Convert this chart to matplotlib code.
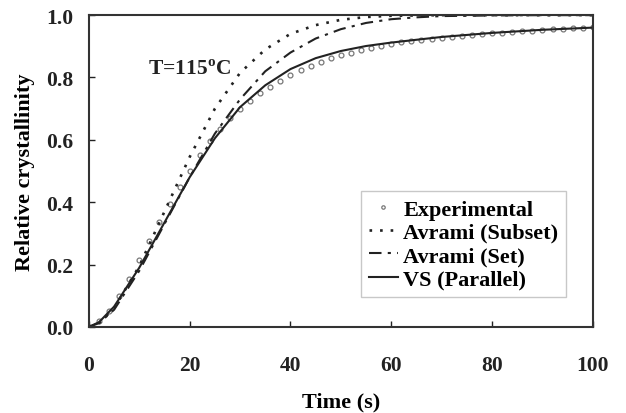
import matplotlib
matplotlib.use("Agg")
import matplotlib.pyplot as plt
import numpy as np

plt.rcParams['font.family'] = ['Liberation Serif', 'DejaVu Serif']
plt.rcParams['font.weight'] = 'bold'
plt.rcParams['mathtext.fontset'] = 'custom'
plt.rcParams['mathtext.rm'] = 'Liberation Serif:bold'

# Experimental points (every 2 s)
t_exp = np.arange(0, 101, 2)
x_exp = [0.0, 0.02, 0.05, 0.10, 0.155, 0.215, 0.275, 0.335, 0.395, 0.45,
         0.50, 0.55, 0.595, 0.635, 0.67, 0.70, 0.725, 0.75, 0.77, 0.79,
         0.808, 0.824, 0.838, 0.850, 0.861, 0.871, 0.880, 0.889, 0.896, 0.902,
         0.908, 0.913, 0.917, 0.921, 0.925, 0.928, 0.931, 0.934, 0.937, 0.940,
         0.942, 0.944, 0.946, 0.948, 0.950, 0.952, 0.954, 0.956, 0.958, 0.960,
         0.962]

# Model curves
t_sub = [0, 2, 5, 10, 15, 20, 25, 30, 35, 40, 45, 50, 55, 60, 70, 80, 100]
x_sub = [0.0, 0.012, 0.06, 0.195, 0.37, 0.545, 0.70, 0.815, 0.89, 0.94,
         0.968, 0.985, 0.994, 0.998, 1.0, 1.0, 1.0]

t_set = [0, 2, 5, 10, 15, 20, 25, 30, 35, 40, 45, 50, 55, 60, 65, 70, 80, 90, 100]
x_set = [0.0, 0.012, 0.055, 0.18, 0.33, 0.48, 0.62, 0.73, 0.82, 0.88,
         0.925, 0.955, 0.975, 0.987, 0.993, 0.997, 0.999, 1.0, 1.0]

t_vs = [0, 2, 5, 10, 15, 20, 25, 30, 35, 40, 45, 50, 55, 60, 70, 80, 90, 100]
x_vs = [0.0, 0.015, 0.065, 0.19, 0.335, 0.48, 0.605, 0.705, 0.775, 0.827,
        0.862, 0.885, 0.901, 0.912, 0.93, 0.943, 0.953, 0.96]

fig = plt.figure(figsize=(6.26, 4.14), dpi=100)
ax = fig.add_axes([0.142, 0.208, 0.805, 0.753])

ink = '#222222'
ax.plot(t_exp, x_exp, linestyle='none', marker='o', markersize=3.5,
        markerfacecolor='none', markeredgecolor='#777777', markeredgewidth=0.9,
        label='Experimental')
ax.plot(t_sub, x_sub, color=ink, lw=1.9, linestyle=(0, (1, 3)), label='Avrami (Subset)')
ax.plot(t_set, x_set, color=ink, lw=1.5, linestyle=(0, (6, 3, 1.5, 3)), label='Avrami (Set)')
ax.plot(t_vs, x_vs, color=ink, lw=1.5, linestyle='-', label='VS (Parallel)')

ax.set_xlim(0, 100)
ax.set_ylim(0, 1.0)
ax.set_xticks([0, 20, 40, 60, 80, 100])
ax.set_yticks([0.0, 0.2, 0.4, 0.6, 0.8, 1.0])
ax.set_yticklabels(['0.0', '0.2', '0.4', '0.6', '0.8', '1.0'])
ax.tick_params(direction='in', length=4, width=1, colors=ink, labelsize=15.5)
ax.tick_params(axis='x', pad=20)
ax.tick_params(axis='y', pad=11)
for s in ax.spines.values():
    s.set_linewidth(1.5)
    s.set_color('#333333')

ax.set_xlabel('Time (s)', fontsize=16, fontweight='bold', labelpad=12)
ax.set_ylabel('Relative crystallinity', fontsize=16, fontweight='bold', labelpad=8)

ax.text(11.7, 0.812, r'T=115$^\mathrm{o}$C', fontsize=15.5, fontweight='bold', color=ink)

leg = ax.legend(loc='upper left', bbox_to_anchor=(0.54, 0.435), fontsize=16,
                frameon=True, fancybox=False, handlelength=1.3, handletextpad=0.25,
                borderpad=0.35, labelspacing=0.12, borderaxespad=0, markerscale=0.7)
leg.get_frame().set_edgecolor('#bbbbbb')
leg.get_frame().set_linewidth(1.0)

fig.savefig('out.png', dpi=100)
